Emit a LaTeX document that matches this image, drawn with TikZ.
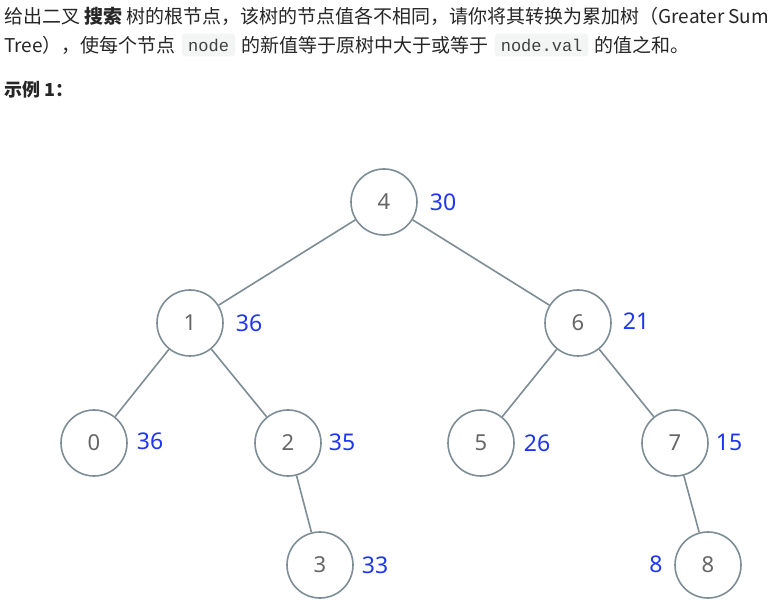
\documentclass[tikz,border=0pt]{standalone}
\usepackage{fontspec}
\setmainfont{Noto Sans}
\newfontfamily\cjk{Noto Sans CJK SC}
\setmonofont{Liberation Mono}
\begin{document}
\begin{tikzpicture}[x=1pt,y=-1pt,
  tn/.style={circle,draw=edgec,line width=1.6pt,fill=white,minimum size=66pt,inner sep=0pt,text=numc,font=\fontsize{22}{22}\selectfont},
  val/.style={text=valc,font=\fontsize{23}{23}\selectfont,inner sep=0pt},
  edge/.style={draw=edgec,line width=1.6pt},
  txt/.style={inner sep=0pt,font=\cjk\fontsize{19}{19}\selectfont,text=black!85},
  code/.style={fill=codebg,rounded corners=3pt,inner xsep=6pt,inner ysep=5pt,font=\ttfamily\fontsize{17}{17}\selectfont,text=black!75}]
\definecolor{edgec}{HTML}{7D8D95}
\definecolor{numc}{HTML}{666666}
\definecolor{valc}{HTML}{1F35F5}
\definecolor{codebg}{HTML}{F3F4F4}
\useasboundingbox[fill=white] (0,0) rectangle (774,601);
\node[txt,anchor=west] (t1) at (4,16) {给出二叉 \textbf{搜索} 树的根节点，该树的节点值各不相同，请你将其转换为累加树（Greater Sum};
\node[txt,anchor=west] (t2a) at (4,45) {Tree），使每个节点};
\node[code,anchor=west] (c1) at ([xshift=6pt]t2a.east) {node};
\node[txt,anchor=west] (t2b) at ([xshift=6pt]c1.east) {的新值等于原树中大于或等于};
\node[code,anchor=west] (c2) at ([xshift=6pt]t2b.east) {node.val};
\node[txt,anchor=west] (t2c) at ([xshift=6pt]c2.east) {的值之和。};
\node[txt,anchor=west,font=\cjk\bfseries\fontsize{18}{18}\selectfont] (ex) at (4,90) {示例 1：};
\node[tn] (n4) at (384,202) {4};
\node[tn] (n1) at (190,323) {1};
\node[tn] (n6) at (578,323) {6};
\node[tn] (n0) at (94,443) {0};
\node[tn] (n2) at (288,443) {2};
\node[tn] (n5) at (481,443) {5};
\node[tn] (n7) at (675,443) {7};
\node[tn] (n3) at (320,565) {3};
\node[tn] (n8) at (708,565) {8};
\draw[edge] (n4) -- (n1);
\draw[edge] (n4) -- (n6);
\draw[edge] (n1) -- (n0);
\draw[edge] (n1) -- (n2);
\draw[edge] (n6) -- (n5);
\draw[edge] (n6) -- (n7);
\draw[edge] (n2) -- (n3);
\draw[edge] (n7) -- (n8);
\node[val] (v4) at (443,202) {30};
\node[val] (v1) at (249,323) {36};
\node[val] (v6) at (636,321) {21};
\node[val] (v0) at (150,441) {36};
\node[val] (v2) at (342,442) {35};
\node[val] (v5) at (537,443) {26};
\node[val] (v7) at (729,442) {15};
\node[val] (v3) at (375,565) {33};
\node[val] (v8) at (656,564) {8};
\end{tikzpicture}
\end{document}
